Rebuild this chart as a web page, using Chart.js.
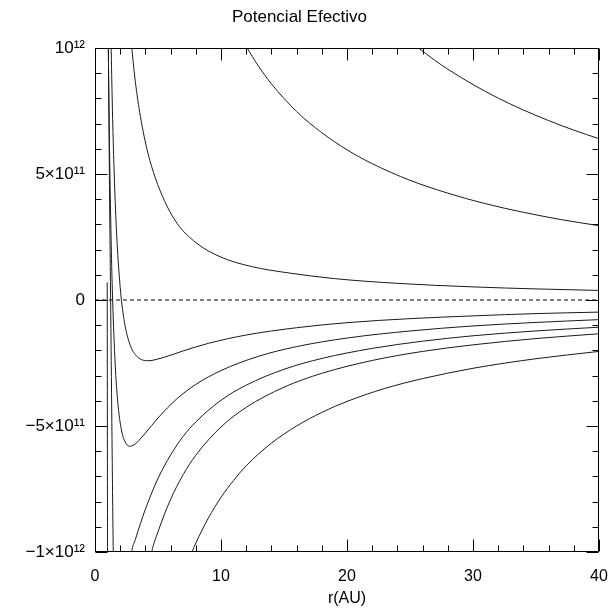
<!DOCTYPE html>
<html><head><meta charset="utf-8">
<script src="https://cdn.jsdelivr.net/npm/chart.js@4/dist/chart.umd.min.js"></script>
<style>html,body{margin:0;padding:0;background:#fff}</style>
</head><body>
<canvas id="c" width="611" height="615"></canvas>
<script>
// r in AU, V in energy units
const rA = [25.5, 27, 28, 30, 32, 34, 36, 38, 40];
const vA = [1.007e12, 9.50e11, 9.16e11, 8.55e11, 8.01e11, 7.54e11, 7.12e11, 6.74e11, 6.40e11];
const rB = [12, 13, 14, 16, 18, 20, 22, 25, 28, 31, 34, 37, 40];
const vB = [1.006e12, 9.26e11, 8.58e11, 7.48e11, 6.64e11, 5.96e11, 5.41e11, 4.75e11, 4.24e11, 3.82e11, 3.48e11, 3.19e11, 2.95e11];
const rC = [2.85, 3.2, 3.6, 4.2, 4.8, 5.5, 6.5, 8, 10, 12.5, 15, 19, 24, 30, 35, 40];
const vC = [1.033e12, 8.67e11, 7.29e11, 5.83e11, 4.83e11, 3.95e11, 3.05e11, 2.28e11, 1.70e11, 1.32e11, 1.10e11, 8.5e10, 6.6e10, 5.2e10, 4.4e10, 3.8e10];
const rD = [1.25, 1.3, 1.4, 1.5, 1.7, 2.0, 2.3, 2.7, 3.2, 4.2, 5.5, 7, 9, 12, 16, 20, 25, 30, 35, 40];
const vD = [1.1e12, 9.55e11, 7.2e11, 5.38e11, 2.79e11, 5.0e10, -7.7e10, -1.66e11, -2.17e11, -2.41e11, -2.27e11, -2.02e11, -1.72e11, -1.39e11, -1.10e11, -9.0e10, -7.4e10, -6.3e10, -5.4e10, -4.8e10];
const rE = [1.03, 1.1, 1.2, 1.3, 1.4, 1.6, 1.8, 2.1, 2.5, 2.8, 3.2, 4, 5, 6.5, 8, 10, 13, 16, 20, 25, 30, 35, 40];
const vE = [1.15e12, 8.05e11, 4.52e11, 1.92e11, 0, -2.54e11, -4.01e11, -5.16e11, -5.72e11, -5.80e11, -5.71e11, -5.28e11, -4.68e11, -3.92e11, -3.35e11, -2.80e11, -2.23e11, -1.85e11, -1.51e11, -1.23e11, -1.03e11, -8.9e10, -7.8e10];
const rF = [0.98, 1.06, 1.15, 1.25, 1.35, 1.45, 1.6, 2.0, 2.5, 2.9, 3.2, 3.6, 4, 5, 6, 7, 8, 10, 12, 15, 18, 22, 26, 30, 35, 40];
const vF = [1.3e12, 1.0e12, 4.5e11, -5e10, -5.5e11, -1.0e12, -1.3e12, -1.4e12, -1.2e12, -1.001e12, -9.51e11, -8.88e11, -8.30e11, -7.08e11, -6.15e11, -5.41e11, -4.84e11, -3.98e11, -3.38e11, -2.75e11, -2.32e11, -1.92e11, -1.635e11, -1.42e11, -1.227e11, -1.08e11];
const rG = [0.97, 1.0, 1.5, 2.5, 3.5, 4.0, 4.5, 5, 6, 7, 8, 10, 12, 15, 18, 22, 26, 30, 35, 40];
const vG = [7e10, -1.1e12, -2.0e12, -2.0e12, -1.4e12, -1.15e12, -1.0e12, -9.2e11, -7.91e11, -6.93e11, -6.16e11, -5.04e11, -4.26e11, -3.46e11, -2.91e11, -2.40e11, -2.04e11, -1.78e11, -1.53e11, -1.34e11];
const rH = [7.2, 7.7, 8, 9, 10, 11, 12, 14, 16, 18, 20, 23, 26, 30, 35, 40];
const vH = [-1.064e12, -1.0e12, -9.65e11, -8.65e11, -7.83e11, -7.16e11, -6.58e11, -5.68e11, -5.0e11, -4.46e11, -4.025e11, -3.51e11, -3.12e11, -2.71e11, -2.33e11, -2.04e11];
const rZero = [0, 40];
const vZero = [0, 0];

const yTickValues = [-1e12, -5e11, 0, 5e11, 1e12];
const yTickLabels = ['\u22121\u00d710\u00b9\u00b2', '\u22125\u00d710\u00b9\u00b9', '0', '5\u00d710\u00b9\u00b9', '10\u00b9\u00b2'];
const xMajorStep = 10, xMinorStep = 2;
const yMajorStep = 5e11, yMinorStep = 1e11;

const pts = (r, v) => r.map((x, i) => ({x, y: v[i]}));
const curve = (r, v) => ({data: pts(r, v), borderColor: '#1a1a1a', borderWidth: 1, pointRadius: 0, fill: false, cubicInterpolationMode: 'monotone'});

const FONT = '"Liberation Sans", Arial, sans-serif';

const frame = {
  id: 'frame',
  afterDatasetsDraw(chart) {
    const {ctx, chartArea: a, scales: {x, y}} = chart;
    ctx.save();
    ctx.strokeStyle = '#000';
    ctx.lineWidth = 1;
    const L = Math.round(a.left) + 0.5, R = Math.round(a.right) - 0.5;
    const T = Math.round(a.top) + 0.5, B = Math.round(a.bottom) - 0.5;
    ctx.beginPath();
    ctx.rect(L, T, R - L, B - T);
    for (let v = x.min; v <= x.max + 1e-9; v += xMinorStep) {
      const p = Math.round(x.getPixelForValue(v)) + 0.5;
      const len = Math.abs(v / xMajorStep - Math.round(v / xMajorStep)) < 1e-6 ? 12 : 6;
      ctx.moveTo(p, B); ctx.lineTo(p, B - len);
      ctx.moveTo(p, T); ctx.lineTo(p, T + len);
    }
    for (let v = y.min; v <= y.max + 1; v += yMinorStep) {
      const p = Math.round(y.getPixelForValue(v)) + 0.5;
      const len = Math.abs(v / yMajorStep - Math.round(v / yMajorStep)) < 1e-6 ? 12 : 6;
      ctx.moveTo(L, p); ctx.lineTo(L + len, p);
      ctx.moveTo(R, p); ctx.lineTo(R - len, p);
    }
    ctx.stroke();
    ctx.restore();
  }
};

new Chart(document.getElementById('c'), {
  type: 'line',
  data: {
    datasets: [
      curve(rA, vA), curve(rB, vB), curve(rC, vC), curve(rD, vD),
      curve(rE, vE), curve(rF, vF), curve(rG, vG), curve(rH, vH),
      {data: pts(rZero, vZero), borderColor: '#000', borderWidth: 1, borderDash: [4, 3], pointRadius: 0}
    ]
  },
  options: {
    responsive: false,
    animation: false,
    events: [],
    layout: {padding: {left: 0, right: 12, top: 0, bottom: 0}},
    plugins: {
      legend: {display: false},
      tooltip: {enabled: false},
      title: {display: true, text: 'Potencial Efectivo', color: '#000', font: {family: FONT, size: 17, weight: 'normal'}, padding: {top: 7, bottom: 20.6}}
    },
    scales: {
      x: {
        type: 'linear', min: 0, max: 40,
        afterFit(s) { s.height = 63; s.paddingLeft = 0; s.paddingRight = 0; },
        grid: {display: false, drawTicks: false},
        border: {display: false},
        ticks: {stepSize: 10, color: '#000', font: {family: FONT, size: 16}, padding: 15, maxRotation: 0},
        title: {display: true, text: 'r(AU)', color: '#000', font: {family: FONT, size: 16}, padding: {top: 0, bottom: 7}}
      },
      y: {
        type: 'linear', min: -1e12, max: 1e12,
        afterFit(s) { s.width = 95; s.paddingTop = 0; s.paddingBottom = 0; },
        afterBuildTicks(s) { s.ticks = yTickValues.map(v => ({value: v})); },
        grid: {display: false, drawTicks: false},
        border: {display: false},
        ticks: {color: '#000', font: {family: FONT, size: 17}, padding: 10, callback: (v, i) => yTickLabels[i]}
      }
    }
  },
  plugins: [frame]
});
</script>
</body></html>
